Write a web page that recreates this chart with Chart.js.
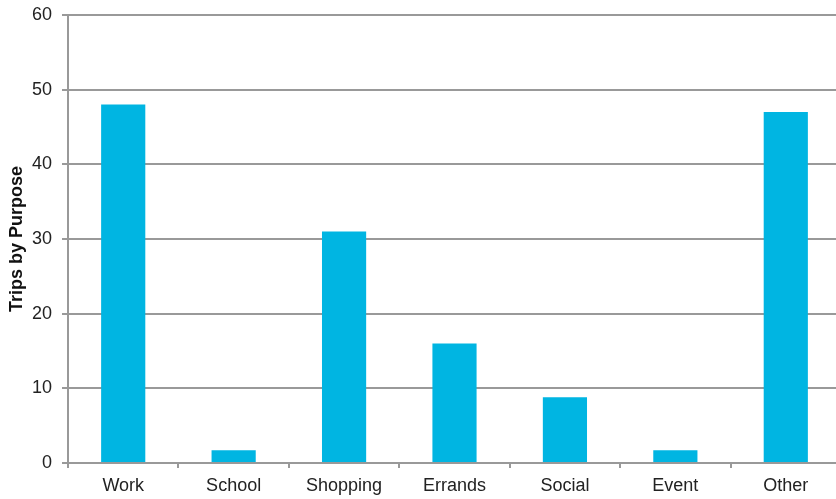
<!DOCTYPE html>
<html>
<head>
<meta charset="utf-8">
<script src="https://cdn.jsdelivr.net/npm/chart.js@4/dist/chart.umd.min.js"></script>
<style>
  html, body { margin: 0; padding: 0; background: #fff; overflow: hidden; }
  #wrap { width: 845px; height: 499px; }
</style>
</head>
<body>
<div id="wrap"><canvas id="tripsChart" width="845" height="499"></canvas></div>
<script>
// Trips per purpose
const purposes = ['Work', 'School', 'Shopping', 'Errands', 'Social', 'Event', 'Other'];
const trips = [48, 1.7, 31, 16, 8.8, 1.7, 47];
const yTicks = [0, 10, 20, 30, 40, 50, 60];

const ctx = document.getElementById('tripsChart').getContext('2d');

let tripsChart = new Chart(ctx, {
    type: 'bar',
    data: {
        labels: purposes,
        datasets: [{
            label: 'Trips by Purpose',
            data: trips,
            backgroundColor: '#00B5E2',
            borderWidth: 0,
            barPercentage: 0.4,
            categoryPercentage: 1.0
        }]
    },
    options: {
        responsive: false,
        animation: false,
        layout: { padding: { top: 15, right: 4, left: 0, bottom: 0 } },
        plugins: {
            legend: { display: false },
            tooltip: { enabled: false }
        },
        scales: {
            x: {
                grid: {
                    offset: true,
                    drawOnChartArea: false,
                    drawTicks: true,
                    tickLength: 5,
                    color: '#999',
                    lineWidth: 2
                },
                border: { color: '#999', width: 2 },
                ticks: {
                    color: '#222',
                    font: { family: 'Liberation Sans, Arial', size: 18 },
                    padding: 7
                },
                afterFit: scale => { scale.height = 36; }
            },
            y: {
                min: 0,
                max: 60,
                afterBuildTicks: scale => { scale.ticks = yTicks.map(v => ({ value: v })); },
                grid: {
                    color: '#999',
                    lineWidth: 2,
                    tickLength: 6
                },
                border: { color: '#999', width: 2 },
                ticks: {
                    color: '#222',
                    font: { family: 'Liberation Sans, Arial', size: 18 },
                    padding: 10
                },
                title: {
                    display: true,
                    text: 'Trips by Purpose',
                    color: '#111',
                    font: { family: 'Liberation Sans, Arial', size: 18, weight: 'bold' },
                    padding: { top: 6, bottom: 0 }
                },
                afterFit: scale => {
                    scale.width = 68;
                    scale.paddingTop = 0;
                    scale.paddingBottom = 0;
                }
            }
        }
    }
});
</script>
</body>
</html>
